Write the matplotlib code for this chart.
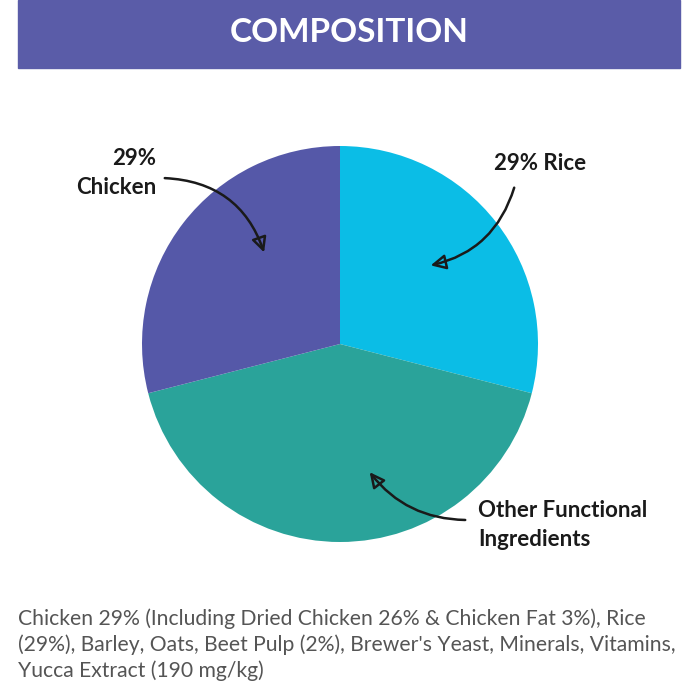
import matplotlib
matplotlib.use("Agg")
import matplotlib.pyplot as plt
from matplotlib.patches import Rectangle

labels = ["29% Rice", "Other Functional\nIngredients", "29%\nChicken"]
values = [29, 42, 29]
colors = ["#0BBDE6", "#2AA39A", "#5558A8"]
title = "COMPOSITION"
desc = ("Chicken 29% (Including Dried Chicken 26% & Chicken Fat 3%), Rice\n"
        "(29%), Barley, Oats, Beet Pulp (2%), Brewer's Yeast, Minerals, Vitamins,\n"
        "Yucca Extract (190 mg/kg)")

W = H = 700
fig = plt.figure(figsize=(7, 7), dpi=100)
fig.patch.set_facecolor("white")
fig.patches.append(Rectangle((18/W, 1-68/H), 662/W, 68/H, transform=fig.transFigure,
                             color="#5A5CA8", zorder=0))
fig.text(349/W, 1-33/H, title, color="white", fontsize=24, fontweight="bold",
         ha="center", va="center", family="Lato")

cx, cy, r = 340, 344, 198
ax = fig.add_axes([(cx-r)/W, (H-cy-r)/H, 2*r/W, 2*r/H])
ax.pie(values, colors=colors, startangle=90, counterclock=False, radius=1)
ax.set_xlim(-1, 1); ax.set_ylim(-1, 1); ax.set_aspect("equal"); ax.axis("off")

def ann(text, tx, ty, ha, sx, sy, ex, ey, rad):
    fig.text(tx/W, 1-ty/H, text, fontsize=16, fontweight="bold", ha=ha, va="center",
             family="Lato", color="#1a1a1a", linespacing=1.5)
    ax.annotate("", xy=(ex, H-ey), xycoords="figure pixels",
                xytext=(sx, H-sy), textcoords="figure pixels",
                arrowprops=dict(arrowstyle="-|>,head_length=0.9,head_width=0.45",
                                connectionstyle=f"arc3,rad={rad}", color="#1a1a1a",
                                lw=1.8, fc="none"), annotation_clip=False)

ann(labels[2], 156, 173, "right", 162, 178, 265, 255, -0.35)
ann(labels[0], 494, 163, "left", 515, 185, 428, 266, -0.3)
ann(labels[1], 478, 525, "left", 468, 520, 368, 470, -0.25)

fig.text(18/W, 1-608/H, desc, fontsize=15.2, color="#555555", ha="left", va="top",
         family="Lato", linespacing=1.35)
fig.savefig("out.png", dpi=100)
